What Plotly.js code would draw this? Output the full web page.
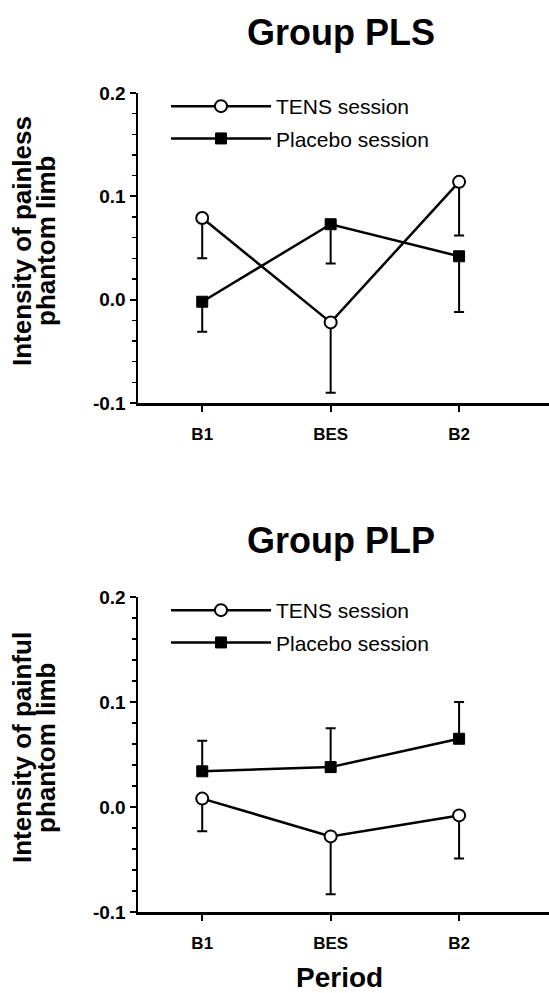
<!DOCTYPE html>
<html>
<head>
<meta charset="utf-8">
<script src="https://cdn.plot.ly/plotly-3.0.1.min.js"></script>
<style>
  html, body { margin: 0; padding: 0; background: #ffffff; }
  #chart { width: 549px; height: 993px; }
</style>
</head>
<body>
<div id="chart"></div>
<script>
// ---------- data ----------
const periods = ['B1', 'BES', 'B2'];

// Group PLS – intensity of painless phantom limb (error bars drawn downward only)
const plsTens = [0.079, -0.022, 0.114];
const plsTensErrMinus = [0.039, 0.068, 0.052];
const plsPlacebo = [-0.002, 0.073, 0.042];
const plsPlaceboErrMinus = [0.029, 0.038, 0.054];

// Group PLP – intensity of painful phantom limb
const plpTens = [0.008, -0.028, -0.008];
const plpTensErrMinus = [0.031, 0.055, 0.041];
const plpPlacebo = [0.034, 0.038, 0.065];
const plpPlaceboErrPlus = [0.029, 0.037, 0.035];

// one-sided bars: the other side has no length
const noErr = [0, 0, 0];

const yTickVals = [-0.1, 0.0, 0.1, 0.2];
const yTickText = ['-0.1', '0.0', '0.1', '0.2'];

const seriesNames = ['TENS session', 'Placebo session'];
const panelTitles = ['Group PLS', 'Group PLP'];
const yTitleLines = [['Intensity of painless', 'phantom limb'], ['Intensity of painful', 'phantom limb']];
const xTitle = 'Period';

// ---------- styling helpers ----------
const W = 549, H = 993;
const px = v => v / W;
const py = v => 1 - v / H;
const BOLD = 'Liberation Sans, Arial, sans-serif';
const black = '#000000';

const tensMarker = { symbol: 'circle', size: 12, color: '#ffffff', line: { color: black, width: 2 } };
const placeboMarker = { symbol: 'square', size: 11, color: black, line: { color: black, width: 1 } };
const lineStyle = { color: black, width: 2.5 };
const errStyle = { type: 'data', symmetric: false, visible: true, color: black, thickness: 2, width: 5 };

const traces = [
  {
    x: periods, y: plsTens, name: seriesNames[0], type: 'scatter', mode: 'lines+markers',
    xaxis: 'x', yaxis: 'y', legend: 'legend', legendgroup: 'a1',
    line: lineStyle, marker: tensMarker,
    error_y: Object.assign({ array: noErr, arrayminus: plsTensErrMinus }, errStyle)
  },
  {
    x: periods, y: plsPlacebo, name: seriesNames[1], type: 'scatter', mode: 'lines+markers',
    xaxis: 'x', yaxis: 'y', legend: 'legend', legendgroup: 'a2',
    line: lineStyle, marker: placeboMarker,
    error_y: Object.assign({ array: noErr, arrayminus: plsPlaceboErrMinus }, errStyle)
  },
  {
    x: periods, y: plpTens, name: seriesNames[0], type: 'scatter', mode: 'lines+markers',
    xaxis: 'x2', yaxis: 'y2', legend: 'legend2', legendgroup: 'b1',
    line: lineStyle, marker: tensMarker,
    error_y: Object.assign({ array: noErr, arrayminus: plpTensErrMinus }, errStyle)
  },
  {
    x: periods, y: plpPlacebo, name: seriesNames[1], type: 'scatter', mode: 'lines+markers',
    xaxis: 'x2', yaxis: 'y2', legend: 'legend2', legendgroup: 'b2',
    line: lineStyle, marker: placeboMarker,
    error_y: Object.assign({ array: plpPlaceboErrPlus, arrayminus: noErr }, errStyle)
  }
];

const xDomain = [px(138), 1];
const topDomain = [py(403), py(93)];
const botDomain = [py(912), py(597)];

function xAxis(anchor) {
  return {
    type: 'category', domain: xDomain, anchor: anchor, range: [-0.5, 2.7],
    showline: true, linewidth: 2.5, linecolor: black, mirror: false,
    ticks: 'outside', ticklen: 6, tickwidth: 2, tickcolor: black,
    ticklabelstandoff: 8,
    showgrid: false, zeroline: false,
    tickfont: { family: BOLD, size: 17, color: black, weight: 'bold' },
    fixedrange: true
  };
}
function yAxis(anchor, domain) {
  return {
    domain: domain, anchor: anchor, range: [-0.1, 0.2],
    tickmode: 'array', tickvals: yTickVals, ticktext: yTickText,
    showline: true, linewidth: 2.5, linecolor: black,
    ticks: 'outside', ticklen: 6, tickwidth: 2, tickcolor: black,
    minor: { tickmode: 'linear', tick0: -0.1, dtick: 0.02, ticks: 'outside', ticklen: 4, tickwidth: 1.5, tickcolor: black, showgrid: false },
    showgrid: false, zeroline: false,
    tickfont: { family: BOLD, size: 19, color: black, weight: 'bold' },
    fixedrange: true
  };
}

const legendCommon = {
  xanchor: 'left', yanchor: 'top', bgcolor: 'rgba(0,0,0,0)', borderwidth: 0,
  font: { family: BOLD, size: 21, color: black },
  traceorder: 'grouped', tracegroupgap: 2, itemwidth: 100
};

function yTitleAnn(text, xpx, ypx) {
  return { text: text, xref: 'paper', yref: 'paper', x: px(xpx), y: py(ypx), xanchor: 'center', yanchor: 'middle',
    showarrow: false, textangle: -90, font: { family: BOLD, size: 26, color: black, weight: 'bold' } };
}

const layout = {
  width: W, height: H,
  margin: { l: 0, r: 0, t: 0, b: 0 },
  paper_bgcolor: '#ffffff', plot_bgcolor: '#ffffff',
  showlegend: true,
  xaxis: xAxis('y'),
  yaxis: yAxis('x', topDomain),
  xaxis2: xAxis('y2'),
  yaxis2: yAxis('x2', botDomain),
  legend: Object.assign({ x: px(166), y: py(86) }, legendCommon),
  legend2: Object.assign({ x: px(166), y: py(590) }, legendCommon),
  annotations: [
    { text: panelTitles[0], xref: 'paper', yref: 'paper', x: px(341), y: py(32), xanchor: 'center', yanchor: 'middle', showarrow: false,
      font: { family: BOLD, size: 36, color: black, weight: 'bold' } },
    { text: panelTitles[1], xref: 'paper', yref: 'paper', x: px(341), y: py(540), xanchor: 'center', yanchor: 'middle', showarrow: false,
      font: { family: BOLD, size: 36, color: black, weight: 'bold' } },
    yTitleAnn(yTitleLines[0][0], 22, 241),
    yTitleAnn(yTitleLines[0][1], 46, 241),
    yTitleAnn(yTitleLines[1][0], 22, 748),
    yTitleAnn(yTitleLines[1][1], 46, 748),
    { text: xTitle, xref: 'paper', yref: 'paper', x: px(340), y: py(977), xanchor: 'center', yanchor: 'middle', showarrow: false,
      font: { family: BOLD, size: 28, color: black, weight: 'bold' } }
  ]
};

Plotly.newPlot('chart', traces, layout, { displayModeBar: false, staticPlot: true });
</script>
</body>
</html>
